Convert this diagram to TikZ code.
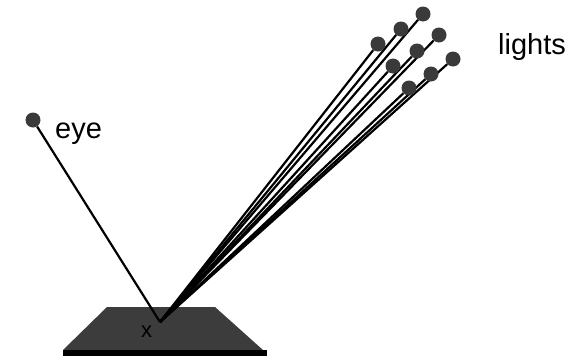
\documentclass[tikz,border=0pt]{standalone}
\usepackage{fontspec}
\setmainfont{Liberation Sans}
\definecolor{dotgray}{HTML}{3A3A3A}
\definecolor{platgray}{HTML}{3C3C3C}
\tikzset{
  dot/.style={circle,fill=dotgray,inner sep=0pt,minimum size=15pt},
  ray/.style={line width=2.2pt,black},
  lbl/.style={anchor=base west,inner sep=0pt,font=\fontsize{29}{34}\selectfont}
}
\begin{document}
\begin{tikzpicture}[x=1pt,y=-1pt]
\useasboundingbox (0,0) rectangle (581,359);
% platform
\fill[platgray] (107,307) -- (215,307) -- (263,350) -- (63,350) -- cycle;
\fill[black] (63,350) rectangle (267,356);
\coordinate (x) at (160,322);
\node[lbl,font=\fontsize{22}{26}\selectfont] (xlbl) at (141,337) {x};
% eye
\node[dot] (eye) at (33,120) {};
\node[lbl] (eyelbl) at (55,138) {eye};
\draw[ray] (eye) -- (x);
% lights
\foreach \n/\x/\y in {a/423/14,b/401/29,c/378/44,d/439/35,e/417/51,f/393/66,g/453/59,h/431/74,i/409/88}
  {\node[dot] (\n) at (\x,\y) {};
   \draw[ray] (x) -- (\n);}
\node[lbl] (lightslbl) at (498,54) {lights};
\end{tikzpicture}
\end{document}
